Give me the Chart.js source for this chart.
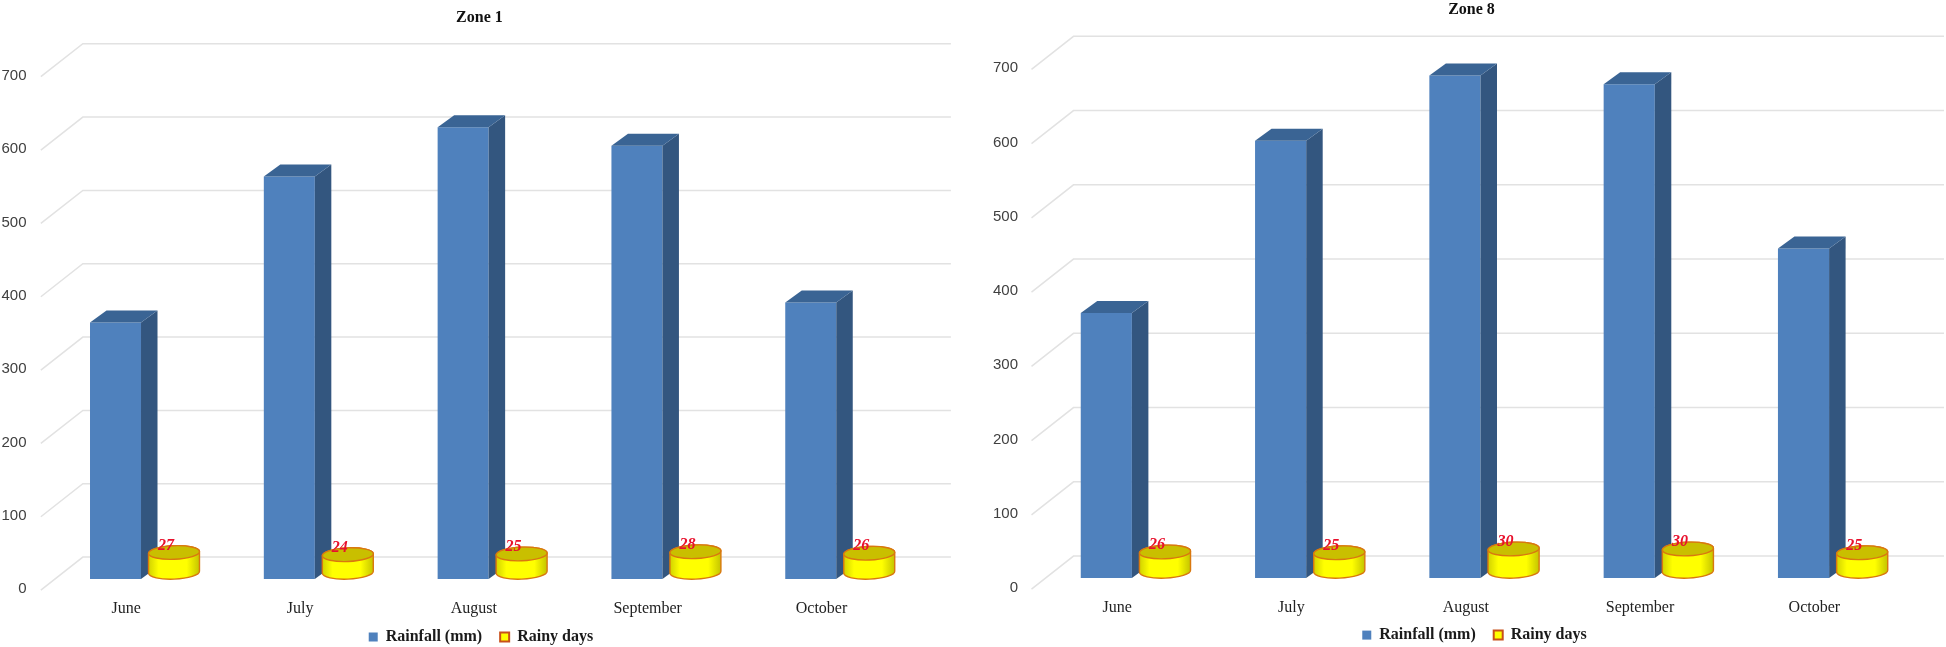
<!DOCTYPE html>
<html>
<head>
<meta charset="utf-8">
<title>Rainfall and rainy days</title>
<script src="https://cdn.jsdelivr.net/npm/chart.js@4"></script>
<style>
    html, body { margin: 0; padding: 0; background: #fff; overflow: hidden; }
    canvas { position: absolute; top: 0; }
    #zone1Chart { left: 0; }
    #zone8Chart { left: 985px; }
</style>
</head>
<body>
<canvas id="zone1Chart" width="962" height="647"></canvas>
<canvas id="zone8Chart" width="979" height="647"></canvas>
<script>
// Data
const months = ['June', 'July', 'August', 'September', 'October'];
const zone1Rainfall = [350, 549, 616, 591, 377];
const zone1RainyDays = [27, 24, 25, 28, 26];
const zone8Rainfall = [357, 589, 677, 665, 444];
const zone8RainyDays = [26, 25, 30, 30, 25];
const yMax = 700;
const yStep = 100;

// Fake 3D look: Chart.js has no 3D bars, so the sides are drawn on top of its bars
const chart3d = {
    id: 'chart3d',
    afterLayout(chart, args, opts) {
        // legend sits a bit closer to the axis labels than the layout allows,
        // and legend and title are centred on the whole panel, not on the plot
        chart.legend.top -= opts.legendShift;
        chart.legend.bottom -= opts.legendShift;
        chart.legend.left += opts.legendDx;
        chart.legend.right += opts.legendDx;
        chart.titleBlock.left += opts.titleDx;
        chart.titleBlock.right += opts.titleDx;
    },
    beforeDatasetsDraw(chart) {
        const ctx = chart.ctx;
        const { left, right } = chart.chartArea;
        ctx.save();
        ctx.strokeStyle = '#e2e2e2';
        ctx.lineWidth = 1.5;
        chart.scales.y.ticks.forEach(tick => {
            const y = chart.scales.y.getPixelForValue(tick.value);
            ctx.beginPath();
            ctx.moveTo(left - 17, y + 11);
            ctx.lineTo(left + 25, y - 22);
            ctx.lineTo(right + 24, y - 22);
            ctx.stroke();
        });
        ctx.restore();
    },
    beforeDatasetDraw(chart, args) {
        // rainy days are not flat bars, they are drawn as cylinders below
        if (args.index === 1) return false;
    },
    afterDatasetDraw(chart, args) {
        if (args.index === 0) {
            chart.getDatasetMeta(0).data.forEach(bar => drawBarSides(chart.ctx, bar));
            chart.getDatasetMeta(1).data.forEach((bar, i) => {
                drawCylinder(chart.ctx, bar, chart.data.datasets[1].data[i]);
            });
        }
    }
};

function drawBarSides(ctx, bar) {
    const depthX = 16.5;
    const depthY = 12;
    const r = bar.x + bar.width / 2;
    const l = bar.x - bar.width / 2;
    ctx.save();
    ctx.fillStyle = '#33567f';
    ctx.beginPath();
    ctx.moveTo(r, bar.y);
    ctx.lineTo(r + depthX, bar.y - depthY);
    ctx.lineTo(r + depthX, bar.base - depthY);
    ctx.lineTo(r, bar.base);
    ctx.closePath();
    ctx.fill();
    ctx.fillStyle = '#3a6494';
    ctx.beginPath();
    ctx.moveTo(l, bar.y);
    ctx.lineTo(l + depthX, bar.y - depthY);
    ctx.lineTo(r + depthX, bar.y - depthY);
    ctx.lineTo(r, bar.y);
    ctx.closePath();
    ctx.fill();
    ctx.restore();
}

function drawCylinder(ctx, bar, value) {
    const rx = bar.width / 2;
    const ry = 6.8;
    const tilt = -0.04;
    const yTop = bar.y - ry;
    const yBottom = bar.base - ry;
    ctx.save();
    const grad = ctx.createLinearGradient(bar.x - rx, 0, bar.x + rx, 0);
    grad.addColorStop(0, '#d2d200');
    grad.addColorStop(0.2, '#ffff00');
    grad.addColorStop(0.75, '#ffff00');
    grad.addColorStop(1, '#c4c400');
    ctx.strokeStyle = '#d9780f';
    ctx.lineWidth = 1.4;
    ctx.fillStyle = grad;
    ctx.beginPath();
    ctx.ellipse(bar.x, yBottom, rx, ry, tilt, 0, Math.PI);
    ctx.ellipse(bar.x, yTop, rx, ry, tilt, Math.PI, Math.PI * 2);
    ctx.closePath();
    ctx.fill();
    ctx.stroke();
    ctx.fillStyle = '#c9bf00';
    ctx.beginPath();
    ctx.ellipse(bar.x, yTop, rx, ry, tilt, 0, Math.PI * 2);
    ctx.fill();
    ctx.stroke();
    ctx.fillStyle = '#e8112d';
    ctx.font = 'italic bold 16px "Liberation Serif"';
    ctx.textAlign = 'center';
    ctx.textBaseline = 'middle';
    ctx.fillText(value, bar.x - 8, yTop - 7);
    ctx.restore();
}

function drawZone(canvasId, title, rainfall, rainyDays, box) {
    new Chart(document.getElementById(canvasId), {
        type: 'bar',
        data: {
            labels: months,
            datasets: [{
                label: 'Rainfall (mm)',
                data: rainfall,
                backgroundColor: '#4f81bd',
                borderWidth: 0,
                barPercentage: 0.872,
                categoryPercentage: 0.673
            }, {
                label: 'Rainy days',
                data: rainyDays,
                backgroundColor: '#ffff00',
                borderColor: '#c8501a',
                borderWidth: 2,
                barPercentage: 0.872,
                categoryPercentage: 0.673
            }]
        },
        options: {
            responsive: false,
            animation: false,
            layout: {
                autoPadding: false,
                padding: { left: 0, right: box.rightPad, top: 0, bottom: box.bottomPad }
            },
            plugins: {
                chart3d: { legendShift: box.legendShift, legendDx: box.legendDx, titleDx: box.titleDx },
                tooltip: { enabled: false },
                title: {
                    display: true,
                    text: title,
                    color: '#111',
                    font: { family: '"Liberation Serif"', size: 16, weight: 'bold' },
                    padding: { top: box.titleTop, bottom: box.titleBottom }
                },
                legend: {
                    position: 'bottom',
                    labels: {
                        color: '#1a1a1a',
                        font: { family: '"Liberation Serif"', size: 16, weight: 'bold' },
                        boxWidth: 9,
                        boxHeight: 9,
                        padding: 18
                    }
                }
            },
            scales: {
                x: {
                    grid: { display: false, drawTicks: false },
                    border: { display: false },
                    ticks: {
                        color: '#222',
                        font: { family: '"Liberation Serif"', size: 16 },
                        padding: 20,
                        labelOffset: -18.5,
                        maxRotation: 0,
                        autoSkip: false
                    },
                    afterFit(scale) { scale.height = 39; }
                },
                y: {
                    min: 0,
                    max: yMax,
                    grid: { display: false, drawTicks: false },
                    border: { display: false },
                    ticks: {
                        stepSize: yStep,
                        color: '#404040',
                        font: { family: '"Liberation Sans"', size: 15 },
                        padding: box.axisWidth - box.labelRight,
                        labelOffset: 10
                    },
                    afterFit(scale) { scale.width = box.axisWidth; }
                }
            }
        },
        plugins: [chart3d]
    });
}

drawZone('zone1Chart', 'Zone 1', zone1Rainfall, zone1RainyDays, {
    axisWidth: 57.85, labelRight: 26.5, rightPad: 35.1, bottomPad: -15.1, legendShift: 7, legendDx: 17.5, titleDx: 16, titleTop: 7.8, titleBottom: 38.7
});
drawZone('zone8Chart', 'Zone 8', zone8Rainfall, zone8RainyDays, {
    axisWidth: 63.5, labelRight: 33, rightPad: 44, bottomPad: -14.1, legendShift: 8, legendDx: 22, titleDx: 19, titleTop: 0, titleBottom: 39.1
});
</script>
</body>
</html>
